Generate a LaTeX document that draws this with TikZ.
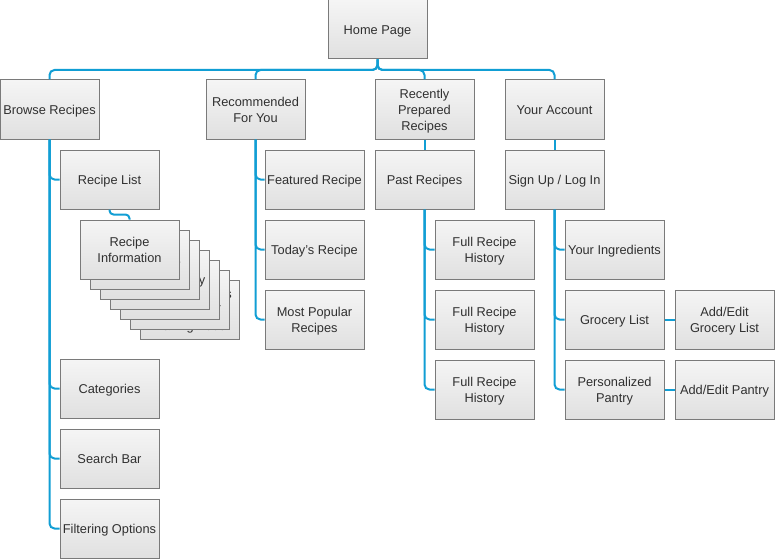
\documentclass[tikz,border=0pt]{standalone}
\usepackage{fontspec}
\setmainfont{Liberation Sans}
\usepackage{tikz}
\usetikzlibrary{calc}
\usetikzlibrary{positioning}

\definecolor{linkblue}{RGB}{17,158,212}
\definecolor{boxgray}{RGB}{122,122,122}
\definecolor{boxtop}{RGB}{245,245,245}
\definecolor{boxbottom}{RGB}{224,224,224}
\definecolor{textgray}{RGB}{48,48,48}

\begin{document}
\begin{tikzpicture}[
	x=1pt, y=-1pt,
  page/.style = {draw=boxgray, line width=1pt, top color=boxtop, bottom color=boxbottom,
    minimum width=99pt, minimum height=59pt, inner sep=1pt, align=center,
    text=textgray, font=\fontsize{12.8}{16}\selectfont,
    execute at begin node={\rule{0pt}{12.2pt}},
    execute at end node={\rule[-3pt]{0pt}{3pt}}},
  twolines/.style = {execute at begin node={\rule{0pt}{28.2pt}}},
  threelines/.style = {execute at begin node={\rule{0pt}{44.2pt}}},
  link/.style = {draw=linkblue, line width=2pt, rounded corners=5pt}
  ]
	\useasboundingbox (0,0) rectangle (775,559);

	% top level
	\node[page] (home) at (377.5,29.5) {Home Page};
	\node[page] (browse) at (49.5,109.5) {Browse Recipes};
	\node[page, twolines] (recom) at (255.5,109.5) {Recommended\\For You};
	\node[page, threelines] (recent) at (424.5,109.5) {Recently\\Prepared\\Recipes};
	\node[page] (account) at (554.5,109.5) {Your Account};

	\coordinate (bus) at (377.5,70);

	\draw[link] (home.south) -- (bus) -| (browse.north);
	\draw[link] (home.south) -- (bus) -| (recom.north);
	\draw[link] (home.south) -- (bus) -| (recent.north);
	\draw[link] (home.south) -- (bus) -| (account.north);

	% browse recipes
	\node[page] (rlist) at (109.5,179.5) {Recipe List};
	\node[page] (cat) at (109.5,388.5) {Categories};
	\node[page] (search) at (109.5,458.5) {Search Bar};
	\node[page] (filter) at (109.5,528.5) {Filtering Options};

	\draw[link] (browse.south) |- (rlist.west);
	\draw[link] (browse.south) |- (cat.west);
	\draw[link] (browse.south) |- (search.west);
	\draw[link] (browse.south) |- (filter.west);

	% stack of recipe cards, back to front
	\node[page, threelines] (card7) at (189.5,309.5) {Video Tutorials\\and Tips for\\Making Food};
	\node[page, twolines] (card6) at (179.5,299.5) {Set a Kitchen\\Cooking Timer};
	\node[page] (card5) at (169.5,289.5) {};
	\node[page] (card4) at (159.5,279.5) {Recipe Difficulty};
	\node[page] (card3) at (149.5,269.5) {};
	\node[page] (card2) at (139.5,259.5) {Nutrition Facts};
	\node[page, twolines] (info) at (129.5,249.5) {Recipe\\Information};

	\draw[link, rounded corners=4pt] (rlist.south) -- ++(0,5) -| (info.north);

	% recommended
	\node[page] (featured) at (314.5,179.5) {Featured Recipe};
	\node[page] (today) at (314.5,249.5) {Today's Recipe};
	\node[page, twolines] (popular) at (314.5,319.5) {Most Popular\\Recipes};

	\draw[link] (recom.south) |- (featured.west);
	\draw[link] (recom.south) |- (today.west);
	\draw[link] (recom.south) |- (popular.west);

	% recently prepared
	\node[page] (past) at (424.5,179.5) {Past Recipes};
	\node[page, twolines] (hist1) at (484.5,249.5) {Full Recipe\\History};
	\node[page, twolines] (hist2) at (484.5,319.5) {Full Recipe\\History};
	\node[page, twolines] (hist3) at (484.5,389.5) {Full Recipe\\History};

	\draw[link] (recent.south) -- (past.north);
	\draw[link] (past.south) |- (hist1.west);
	\draw[link] (past.south) |- (hist2.west);
	\draw[link] (past.south) |- (hist3.west);

	% account
	\node[page] (signup) at (554.5,179.5) {Sign Up / Log In};
	\node[page] (ingred) at (614.5,249.5) {Your Ingredients};
	\node[page] (grocery) at (614.5,319.5) {Grocery List};
	\node[page, twolines] (pantry) at (614.5,389.5) {Personalized\\Pantry};
	\node[page, twolines] (addgro) at (724.5,319.5) {Add/Edit\\Grocery List};
	\node[page] (addpan) at (724.5,389.5) {Add/Edit Pantry};

	\draw[link] (account.south) -- (signup.north);
	\draw[link] (signup.south) |- (ingred.west);
	\draw[link] (signup.south) |- (grocery.west);
	\draw[link] (signup.south) |- (pantry.west);
	\draw[link] (grocery.east) -- (addgro.west);
	\draw[link] (pantry.east) -- (addpan.west);
\end{tikzpicture}
\end{document}
